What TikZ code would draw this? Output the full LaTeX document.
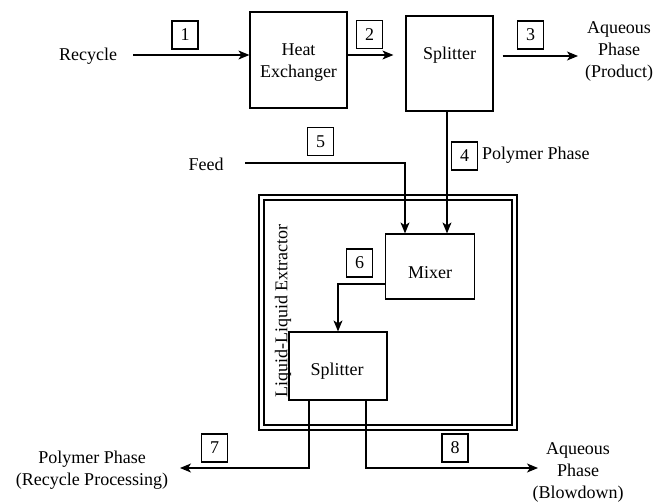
\documentclass[tikz,border=0pt]{standalone}
\usepackage{fontspec}
\setmainfont{Liberation Serif}
\usetikzlibrary{arrows.meta}
\begin{document}
\begin{tikzpicture}[x=1pt,y=-1pt,
  every node/.style={font=\fontsize{18}{22}\selectfont, inner sep=0pt},
  unit/.style={draw, line width=1.2pt},
  tag/.style={draw, line width=1.2pt, minimum width=26pt, minimum height=28pt},
  lbl/.style={align=center},
  flow/.style={line width=1.2pt, -{Stealth[length=11pt,width=9pt,inset=3pt]}},
  pipe/.style={line width=1.2pt}]
\useasboundingbox (0,0) rectangle (656,503);

% extractor enclosure
\draw[pipe] (259,195) rectangle (517,430);
\draw[pipe] (264,200) rectangle (512,425);
\node[rotate=90] (extlbl) at (283,311) {Liquid-Liquid Extractor};

% units
\node[unit, minimum width=97pt, minimum height=96pt] (hx) at (298.5,60) {};
\node[lbl] (hxt) at (298.5,63) {Heat\\Exchanger};
\node[unit, minimum width=87pt, minimum height=95pt] (sp1) at (449.5,63.5) {};
\node (sp1t) at (449.5,55.5) {Splitter};
\node[unit, minimum width=89pt, minimum height=65pt] (mix) at (430,266.5) {};
\node (mixt) at (430,272.5) {Mixer};
\node[unit, minimum width=98pt, minimum height=68pt] (sp2) at (338,366) {};
\node (sp2t) at (337,371) {Splitter};

% labels
\node (rec) at (88,56) {Recycle};
\node[lbl] (prod) at (619,51) {Aqueous\\Phase\\(Product)};
\node[anchor=west] (poly4) at (482,155.5) {Polymer Phase};
\node (feed) at (206,164.5) {Feed};
\node[lbl] (poly7) at (92,470) {Polymer Phase\\(Recycle Processing)};
\node[lbl] (blow) at (578,472) {Aqueous\\Phase\\(Blowdown)};

% stream tags
\node[tag] (t1) at (185,35) {1};
\node[tag] (t2) at (369.5,34.5) {2};
\node[tag] (t3) at (530.5,35) {3};
\node[tag] (t4) at (464.5,156) {4};
\node[tag] (t5) at (320.5,141.5) {5};
\node[tag] (t6) at (359.5,263) {6};
\node[tag] (t7) at (214.5,448) {7};
\node[tag] (t8) at (455,448) {8};

% connector helpers
\coordinate (r1) at (133,55);
\coordinate (y2) at (0,55);
\coordinate (a3e) at (578,56);
\coordinate (c4) at (447,0);
\coordinate (f0) at (245,163);
\coordinate (c5) at (405,0);
\coordinate (c6) at (338,284);
\coordinate (c7) at (309,0);
\coordinate (e7) at (180,468);
\coordinate (c8) at (366,0);
\coordinate (e8) at (538,468);

% streams
\draw[flow] (r1) -- (r1 -| hx.west);
\draw[flow, shorten >=12pt] (hx.east |- y2) -- (sp1.west |- y2);
\draw[flow, shorten <=9pt] (sp1.east |- a3e) -- (a3e);
\draw[flow] (sp1.south -| c4) -- (mix.north -| c4);
\draw[flow] (f0) -| (mix.north -| c5);
\draw[flow] (mix.west |- c6) -| (sp2.north -| c6);
\draw[flow] (sp2.south -| c7) |- (e7);
\draw[flow] (sp2.south -| c8) |- (e8);
\end{tikzpicture}
\end{document}
